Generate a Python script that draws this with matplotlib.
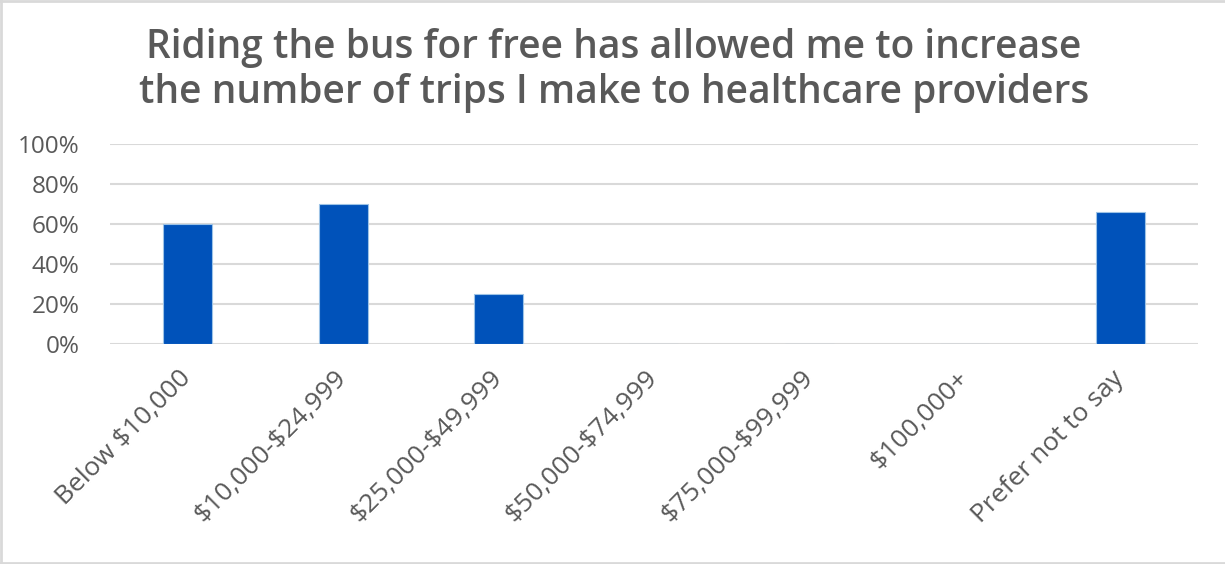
import matplotlib
matplotlib.use("Agg")
from matplotlib import pyplot as plt
from matplotlib.lines import Line2D
import numpy as np

# income brackets and share who agreed
categories = ["Below $10,000", "$10,000-$24,999", "$25,000-$49,999",
              "$50,000-$74,999", "$75,000-$99,999", "$100,000+", "Prefer not to say"]
shares = [0.60, 0.70, 0.25, 0.0, 0.0, 0.0, 0.66]
yticks = [0, 0.2, 0.4, 0.6, 0.8, 1.0]
ytick_labels = ["0%", "20%", "40%", "60%", "80%", "100%"]
title = "Riding the bus for free has allowed me to increase\nthe number of trips I make to healthcare providers"

text_grey = "#595959"
bar_blue = "#0052BA"

plt.rcParams['font.family'] = ['Open Sans', 'DejaVu Sans']

fig = plt.figure(figsize=(12.25, 5.64), dpi=100)
ax = fig.add_axes([0.0898, 0.390, 0.888, 0.355])

x = np.arange(len(categories))
ax.bar(x, shares, width=0.315, color=bar_blue, edgecolor="#9DC3E6", linewidth=0.8, zorder=3)

ax.set_xlim(-0.5, len(categories) - 0.5)
ax.set_ylim(0, 1)
ax.set_yticks(yticks)
ax.set_yticklabels(ytick_labels)
ax.set_xticks(x)
# escape the dollar signs so they are not read as mathtext
ax.set_xticklabels([c.replace("$", r"\$") for c in categories],
                   rotation=45, ha="right", rotation_mode="anchor")

ax.tick_params(axis="y", length=0, pad=22, labelsize=17.5, labelcolor=text_grey)
ax.tick_params(axis="x", length=0, pad=22, labelsize=19, labelcolor=text_grey)
for lbl in ax.get_xticklabels():
    lbl.set_va("center")

ax.grid(axis="y", color="#d9d9d9", linewidth=1.5, zorder=0)
for s in ax.spines.values():
    s.set_visible(False)

fig.text(0.501, 0.875, title, ha="center", va="center", fontsize=28,
         fontweight="semibold", color=text_grey, linespacing=1.15)

# thin frame around the chart area
for xs, ys in [([0.001, 0.001], [0, 1]), ([0, 1], [0.999, 0.999]), ([0, 1], [0.001, 0.001])]:
    fig.add_artist(Line2D(xs, ys, color="#d9d9d9", linewidth=2, transform=fig.transFigure))

fig.savefig("out.png", dpi=100)
